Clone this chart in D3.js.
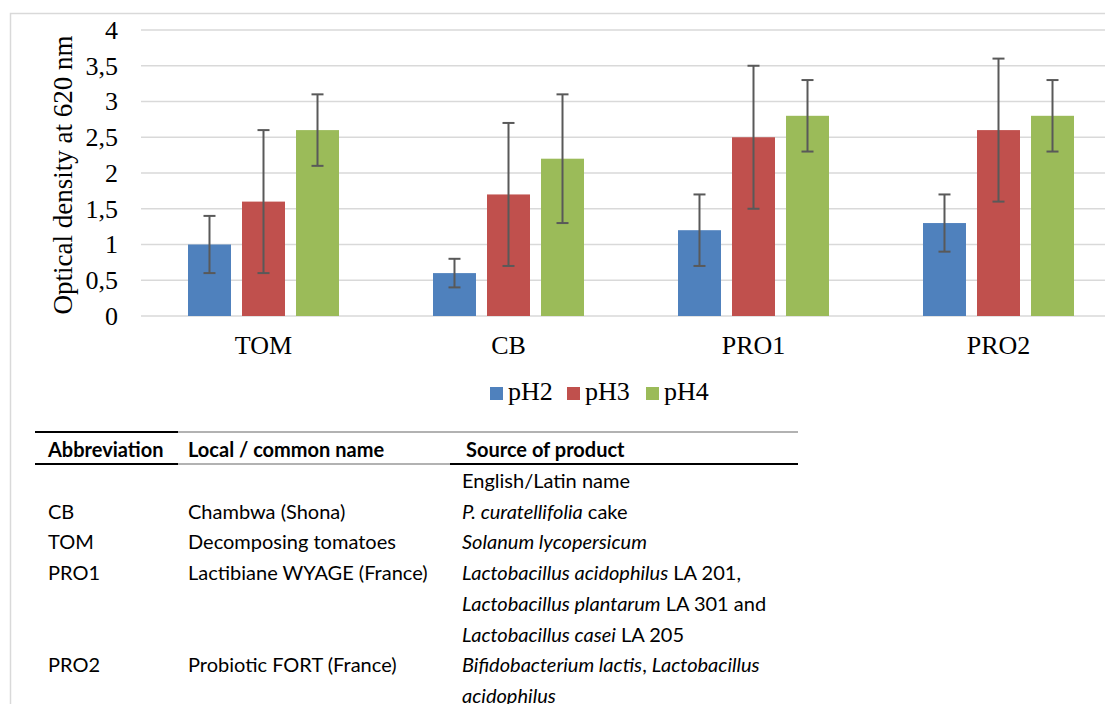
<!DOCTYPE html>
<html>
<head>
<meta charset="utf-8">
<script src="https://cdn.jsdelivr.net/npm/d3@7"></script>
<style>
  body { margin: 0; background: #fff; }
  svg { display: block; }
</style>
</head>
<body>
<div class="chart"></div>
<script>
const categories = ['TOM', 'CB', 'PRO1', 'PRO2'];
const series = ['pH2', 'pH3', 'pH4'];
// mean optical density per category, one array per series
const pH2 = [1.0, 0.6, 1.2, 1.3];
const pH3 = [1.6, 1.7, 2.5, 2.6];
const pH4 = [2.6, 2.2, 2.8, 2.8];
// error bar half-widths
const pH2Err = [0.4, 0.2, 0.5, 0.4];
const pH3Err = [1.0, 1.0, 1.0, 1.0];
const pH4Err = [0.5, 0.9, 0.5, 0.5];
const yTicks = [0, 0.5, 1, 1.5, 2, 2.5, 3, 3.5, 4];

const colors = d3.scaleOrdinal()
  .domain(series)
  .range(['#4f81bd', '#c0504d', '#9bbb59']);

// table under the chart, [text, italic] runs per cell
const tableHeader = ['Abbreviation', 'Local / common name', 'Source of product'];
const tableRows = [
  ['', '', [['English/Latin name', false]]],
  ['CB', 'Chambwa (Shona)', [['P. curatellifolia', true], [' cake', false]]],
  ['TOM', 'Decomposing tomatoes', [['Solanum lycopersicum', true]]],
  ['PRO1', 'Lactibiane WYAGE (France)', [['Lactobacillus acidophilus', true], [' LA 201,', false]]],
  ['', '', [['Lactobacillus plantarum', true], [' LA 301 and', false]]],
  ['', '', [['Lactobacillus casei', true], [' LA 205', false]]],
  ['PRO2', 'Probiotic FORT (France)', [['Bifidobacterium lactis', true], [', ', false], ['Lactobacillus', true]]],
  ['', '', [['acidophilus', true]]]
];

const data = categories.map((c, i) => ({
  category: c,
  values: [
    { key: 'pH2', value: pH2[i], err: pH2Err[i] },
    { key: 'pH3', value: pH3[i], err: pH3Err[i] },
    { key: 'pH4', value: pH4[i], err: pH4Err[i] }
  ]
}));

const chartWidth = 1105;
const chartHeight = 704;

const svg = d3.select('.chart')
  .append('svg')
  .attr('width', chartWidth)
  .attr('height', chartHeight);

// outer chart frame (runs off the right and bottom)
svg.append('rect')
  .attr('x', 10.5)
  .attr('y', 13.5)
  .attr('width', 1200)
  .attr('height', 800)
  .attr('fill', 'none')
  .attr('stroke', '#d9d9d9')
  .attr('stroke-width', 1.5);

const xScale = d3.scaleBand()
  .domain(categories)
  .range([141, 1121]);

const xSub = d3.scaleBand()
  .domain(series)
  .range([47, 198])
  .paddingInner(0.204);

const yScale = d3.scaleLinear()
  .domain([0, 4])
  .range([316, 30]);

const commaFormat = d3.formatLocale({ decimal: ',', thousands: '.', grouping: [3], currency: ['', ''] }).format('~g');

// gridlines
svg.append('g')
  .selectAll('line')
  .data(yTicks)
  .enter()
  .append('line')
  .attr('x1', 141)
  .attr('x2', 1121)
  .attr('y1', d => yScale(d))
  .attr('y2', d => yScale(d))
  .attr('stroke', '#d9d9d9')
  .attr('stroke-width', 1.5);

// y axis labels
const yAxis = d3.axisLeft(yScale)
  .tickValues(yTicks)
  .tickFormat(commaFormat)
  .tickSize(0)
  .tickPadding(0);
const yAxisG = svg.append('g')
  .attr('transform', 'translate(118, 0)')
  .call(yAxis);
yAxisG.select('.domain').remove();
yAxisG.selectAll('text')
  .attr('font-family', '"Liberation Serif", "Times New Roman", serif')
  .attr('font-size', '26px')
  .attr('fill', '#000');

svg.append('text')
  .attr('transform', 'translate(72, 175) rotate(-90)')
  .attr('text-anchor', 'middle')
  .attr('font-family', '"Liberation Serif", "Times New Roman", serif')
  .attr('font-size', '27px')
  .attr('fill', '#000')
  .text('Optical density at 620 nm');

// bars
const groups = svg.append('g')
  .selectAll('g')
  .data(data)
  .enter()
  .append('g')
  .attr('transform', d => `translate(${xScale(d.category)}, 0)`);

groups.selectAll('rect')
  .data(d => d.values)
  .enter()
  .append('rect')
  .attr('x', d => xSub(d.key))
  .attr('y', d => yScale(d.value))
  .attr('width', xSub.bandwidth())
  .attr('height', d => yScale(0) - yScale(d.value))
  .attr('fill', d => colors(d.key));

// error bars
const errs = groups.selectAll('g.err')
  .data(d => d.values)
  .enter()
  .append('g')
  .attr('class', 'err')
  .attr('stroke', '#595959')
  .attr('stroke-width', 2);
errs.append('line')
  .attr('x1', d => xSub(d.key) + xSub.bandwidth() / 2)
  .attr('x2', d => xSub(d.key) + xSub.bandwidth() / 2)
  .attr('y1', d => yScale(d.value - d.err))
  .attr('y2', d => yScale(d.value + d.err));
errs.selectAll('line.cap')
  .data(d => [
    { x: xSub(d.key) + xSub.bandwidth() / 2, v: d.value - d.err },
    { x: xSub(d.key) + xSub.bandwidth() / 2, v: d.value + d.err }
  ])
  .enter()
  .append('line')
  .attr('class', 'cap')
  .attr('x1', d => d.x - 6)
  .attr('x2', d => d.x + 6)
  .attr('y1', d => yScale(d.v))
  .attr('y2', d => yScale(d.v));

// category labels
const xAxis = d3.axisBottom(xScale).tickSize(0).tickPadding(0);
const xAxisG = svg.append('g')
  .attr('transform', 'translate(0, 336)')
  .call(xAxis);
xAxisG.select('.domain').remove();
xAxisG.selectAll('text')
  .attr('dy', '0.71em')
  .attr('font-family', '"Liberation Serif", "Times New Roman", serif')
  .attr('font-size', '26px')
  .attr('fill', '#000');

// legend
const legendX = [490, 567, 646];
const legend = svg.append('g')
  .selectAll('g')
  .data(series)
  .enter()
  .append('g')
  .attr('transform', (d, i) => `translate(${legendX[i]}, 0)`);
legend.append('rect')
  .attr('x', 0)
  .attr('y', 387)
  .attr('width', 13)
  .attr('height', 13)
  .attr('fill', d => colors(d));
legend.append('text')
  .attr('x', 18)
  .attr('y', 400)
  .attr('font-family', '"Liberation Serif", "Times New Roman", serif')
  .attr('font-size', '26px')
  .attr('fill', '#000')
  .text(d => d);

// table
const tableFont = 'Lato, "Open Sans", sans-serif';
const colX = [48, 188, 462];
const table = svg.append('g');

table.append('line')
  .attr('x1', 35).attr('x2', 178).attr('y1', 432).attr('y2', 432)
  .attr('stroke', '#000').attr('stroke-width', 2);
table.append('line')
  .attr('x1', 178).attr('x2', 798).attr('y1', 432).attr('y2', 432)
  .attr('stroke', '#666').attr('stroke-width', 1.2);
table.append('line')
  .attr('x1', 35).attr('x2', 178).attr('y1', 464).attr('y2', 464)
  .attr('stroke', '#000').attr('stroke-width', 2);
table.append('line')
  .attr('x1', 178).attr('x2', 450).attr('y1', 464).attr('y2', 464)
  .attr('stroke', '#666').attr('stroke-width', 1.2);
table.append('line')
  .attr('x1', 450).attr('x2', 798).attr('y1', 464).attr('y2', 464)
  .attr('stroke', '#000').attr('stroke-width', 2);

table.selectAll('text.head')
  .data(tableHeader)
  .enter()
  .append('text')
  .attr('class', 'head')
  .attr('x', (d, i) => colX[i] + (i === 2 ? 4 : 0))
  .attr('y', 457)
  .attr('font-family', tableFont)
  .attr('font-weight', 'bold')
  .attr('font-size', '20px')
  .attr('fill', '#000')
  .text(d => d);

const rowY = d3.scaleLinear().domain([0, 1]).range([488, 518.7]);
const rows = table.selectAll('g.row')
  .data(tableRows)
  .enter()
  .append('g')
  .attr('class', 'row')
  .attr('font-family', tableFont)
  .attr('font-size', '20px')
  .attr('fill', '#000');

rows.append('text')
  .attr('x', colX[0])
  .attr('y', (d, i) => rowY(i))
  .text(d => d[0]);
rows.append('text')
  .attr('x', colX[1])
  .attr('y', (d, i) => rowY(i))
  .text(d => d[1]);
rows.append('text')
  .attr('x', colX[2])
  .attr('y', (d, i) => rowY(i))
  .selectAll('tspan')
  .data(d => d[2])
  .enter()
  .append('tspan')
  .attr('font-style', d => d[1] ? 'italic' : 'normal')
  .text(d => d[0]);
</script>
</body>
</html>
